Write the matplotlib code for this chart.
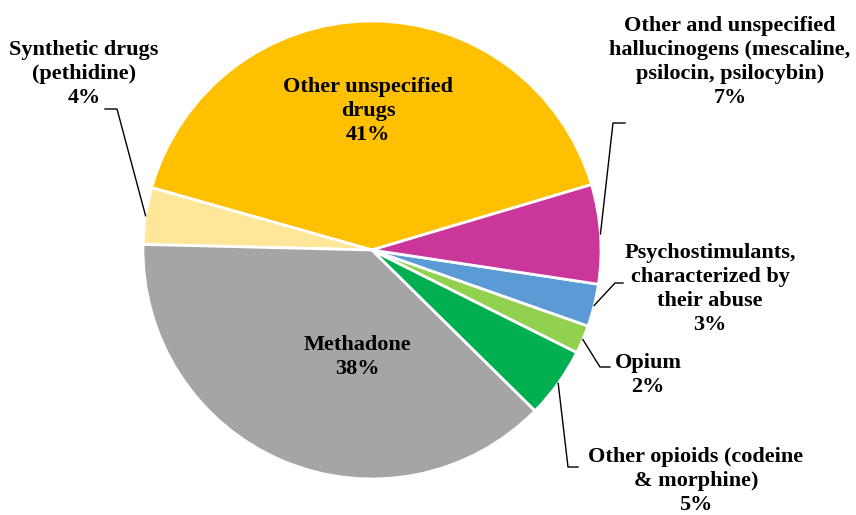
import numpy as np
import matplotlib.pyplot as plt

# drug categories, counter-clockwise from the top-right edge of the big slice
labels = ["Other unspecified\ndrugs",
          "Synthetic drugs\n(pethidine)",
          "Methadone",
          "Other opioids (codeine\n& morphine)",
          "Opium",
          "Psychostimulants,\ncharacterized by\ntheir abuse",
          "Other and unspecified\nhallucinogens (mescaline,\npsilocin, psilocybin)"]
shares = [41, 4, 38, 5, 2, 3, 7]
colors = ["#FFC000", "#FFE699", "#A5A5A5", "#00B050", "#92D050", "#5B9BD5", "#CA3699"]

W, H = 856, 515
cx, cy, R = 372, H - 250, 229
start = 16.6

fig = plt.figure(figsize=(W / 100, H / 100), dpi=100)
ax = fig.add_axes([0, 0, 1, 1])

wedges, _ = ax.pie(shares, colors=colors, startangle=start, counterclock=True,
                   center=(cx, cy), radius=R,
                   wedgeprops=dict(edgecolor="white", linewidth=2))
ax.set_aspect("auto")
ax.set_xlim(0, W)
ax.set_ylim(0, H)
ax.axis("off")

font = dict(family="Liberation Serif", weight="bold", fontsize=16,
            ha="center", va="center", linespacing=1.27, color="black")

# label box centres (x, y from top) and leader elbows for outside labels
inside = {0: (368, 111), 2: (357, 357)}
outside = {
    1: ((84, 74), [(105, 109), (117, 109)]),
    6: ((730, 62), [(625, 123), (613, 123)]),
    5: ((710, 289), [(623, 283), (615, 283)]),
    4: ((648, 375), [(610, 367), (600, 367)]),
    3: ((696, 481), [(578, 467), (568, 467)]),
}

for i, w in enumerate(wedges):
    txt = f"{labels[i]}\n{shares[i]}%"
    if i in inside:
        x, y = inside[i]
        ax.text(x, H - y, txt, **font)
        continue
    (x, y), elbow = outside[i]
    ax.text(x, H - y, txt, **font)
    mid = np.deg2rad((w.theta1 + w.theta2) / 2)
    px = [p[0] for p in elbow] + [cx + R * np.cos(mid)]
    py = [H - p[1] for p in elbow] + [cy + R * np.sin(mid)]
    ax.plot(px, py, color="black", lw=1)

fig.savefig("out.png", dpi=100)
